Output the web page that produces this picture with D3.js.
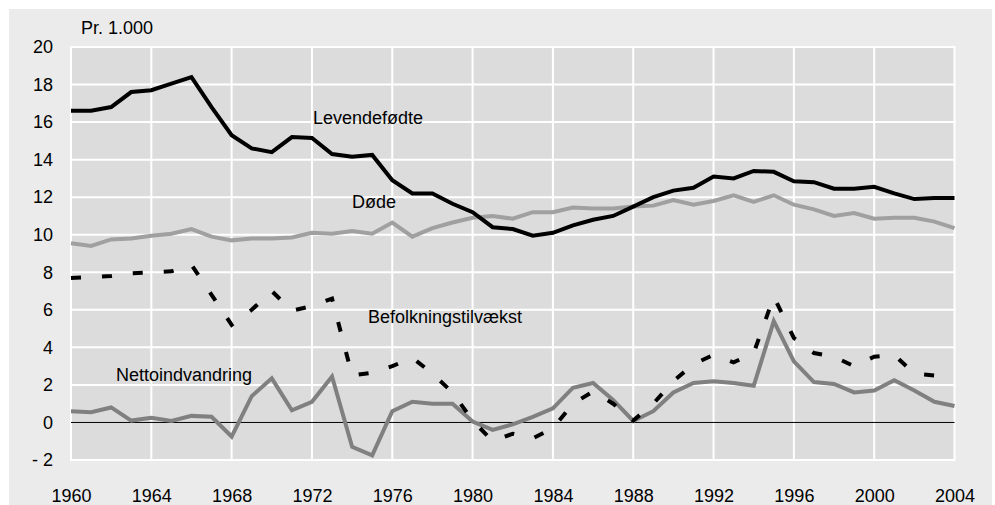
<!DOCTYPE html>
<html>
<head>
<meta charset="utf-8">
<script src="https://cdn.jsdelivr.net/npm/d3@7"></script>
<style>
  html, body { margin: 0; padding: 0; background: #ffffff; }
  svg { display: block; font-family: "Liberation Sans", Arial, sans-serif; }
  .tick text { font-size: 18px; fill: #000; }
</style>
</head>
<body>
<svg id="chart" width="995" height="505"></svg>
<script>
const years = d3.range(1960, 2005);
const levendefodte = [16.6, 16.6, 16.8, 17.6, 17.7, 18.05, 18.4, 16.8, 15.3, 14.6, 14.4, 15.2, 15.15,
  14.3, 14.15, 14.25, 12.9, 12.2, 12.2, 11.65, 11.2, 10.4, 10.3, 9.95, 10.1, 10.5, 10.8, 11.0, 11.5,
  12.0, 12.35, 12.5, 13.1, 13.0, 13.4, 13.35, 12.85, 12.8, 12.45, 12.45, 12.55, 12.2, 11.9, 11.95, 11.95];
const dode = [9.55, 9.4, 9.75, 9.8, 9.95, 10.05, 10.3, 9.9, 9.7, 9.8, 9.8, 9.85, 10.1,
  10.05, 10.2, 10.05, 10.65, 9.9, 10.35, 10.65, 10.9, 11.0, 10.85, 11.2, 11.2, 11.45, 11.4, 11.4, 11.5,
  11.55, 11.85, 11.6, 11.8, 12.1, 11.75, 12.1, 11.6, 11.35, 11.0, 11.15, 10.85, 10.9, 10.9, 10.7, 10.35];
const befolkningstilvaekst = [7.7, 7.75, 7.8, 7.95, 8.0, 8.05, 8.4, 6.8, 5.2, 6.0, 7.0, 5.95, 6.2,
  6.6, 2.5, 2.65, 3.0, 3.45, 2.6, 1.6, 0.1, -1.0, -0.6, -0.85, -0.3, 1.0, 1.65, 1.0, 0.1,
  1.0, 2.2, 3.1, 3.6, 3.2, 3.7, 6.7, 4.5, 3.7, 3.5, 3.0, 3.5, 3.6, 2.6, 2.5, 2.5];
const nettoindvandring = [0.6, 0.55, 0.8, 0.1, 0.25, 0.08, 0.35, 0.3, -0.75, 1.4, 2.35, 0.65, 1.1,
  2.45, -1.3, -1.75, 0.6, 1.1, 1.0, 1.0, 0.05, -0.4, -0.1, 0.3, 0.75, 1.85, 2.1, 1.2, 0.08,
  0.6, 1.6, 2.1, 2.2, 2.1, 1.95, 5.4, 3.25, 2.15, 2.05, 1.6, 1.7, 2.25, 1.7, 1.1, 0.88];
const xTicks = d3.range(1960, 2005, 4);
const yTicks = d3.range(-2, 21, 2);

const svg = d3.select("#chart");
const x = d3.scaleLinear().domain([1960, 2004]).range([71, 954.5]);
const y = d3.scaleLinear().domain([-2, 20]).range([460, 47]);

// outer panel
svg.append("rect").attr("x", 9).attr("y", 9).attr("width", 983).attr("height", 496).attr("fill", "#ebebeb");
// plot area
svg.append("rect").attr("x", x(1960)).attr("y", y(20))
  .attr("width", x(2004) - x(1960)).attr("height", y(-2) - y(20)).attr("fill", "#dcdcdc");

// grid
const grid = svg.append("g");
grid.selectAll("line.v").data(xTicks).join("line")
  .attr("x1", d => x(d)).attr("x2", d => x(d)).attr("y1", y(20)).attr("y2", y(-2))
  .attr("stroke", "#ffffff").attr("stroke-width", 2);
grid.selectAll("line.h").data(yTicks.filter(d => d !== 0)).join("line")
  .attr("x1", x(1960) - 1).attr("x2", x(2004) + 1).attr("y1", d => y(d)).attr("y2", d => y(d))
  .attr("stroke", "#ffffff").attr("stroke-width", 2);
svg.append("line").attr("x1", x(1960)).attr("x2", x(2004)).attr("y1", y(0)).attr("y2", y(0))
  .attr("stroke", "#000").attr("stroke-width", 1);

// axes
const xAxis = svg.append("g").attr("transform", `translate(0,${y(-2)})`)
  .call(d3.axisBottom(x).tickValues(xTicks).tickFormat(d3.format("d")).tickSize(0).tickPadding(29));
xAxis.select(".domain").remove();
const yAxis = svg.append("g").attr("transform", `translate(${x(1960)},0)`)
  .call(d3.axisLeft(y).tickValues(yTicks).tickFormat(d => d < 0 ? "- " + Math.abs(d) : d).tickSize(0).tickPadding(18));
yAxis.select(".domain").remove();

// lines
const line = d3.line().x((d, i) => x(years[i])).y(d => y(d));
const series = [
  { data: dode, color: "#a0a0a0", dash: null },
  { data: nettoindvandring, color: "#808080", dash: null },
  { data: befolkningstilvaekst, color: "#000000", dash: "10,21" },
  { data: levendefodte, color: "#000000", dash: null }
];
series.forEach(s => {
  svg.append("path").datum(s.data).attr("d", line)
    .attr("fill", "none").attr("stroke", s.color).attr("stroke-width", 4)
    .attr("stroke-linejoin", "miter").attr("stroke-dasharray", s.dash);
});

// labels
const labels = [
  { t: "Pr. 1.000", x: 81, y: 34 },
  { t: "Levendefødte", x: 313, y: 124 },
  { t: "Døde", x: 352, y: 208 },
  { t: "Befolkningstilvækst", x: 368, y: 323 },
  { t: "Nettoindvandring", x: 116, y: 381 }
];
svg.selectAll("text.lab").data(labels).join("text").attr("class", "lab")
  .attr("x", d => d.x).attr("y", d => d.y).attr("font-size", 18).text(d => d.t);
</script>
</body>
</html>
